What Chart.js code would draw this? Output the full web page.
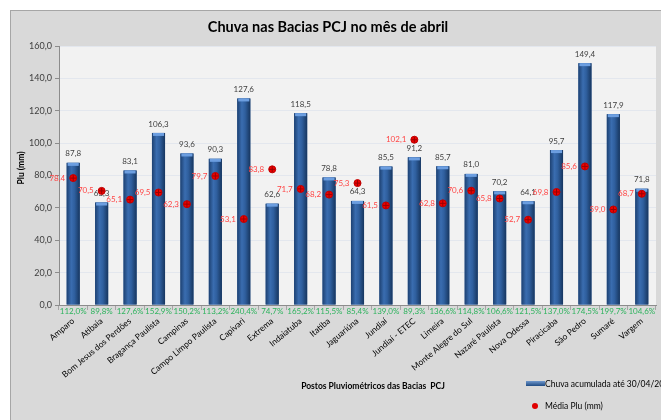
<!DOCTYPE html>
<html>
<head>
<meta charset="utf-8">
<script src="https://cdn.jsdelivr.net/npm/chart.js@4"></script>
<style>
  body { margin: 0; background: #fff; }
  #wrap { width: 661px; height: 420px; }
</style>
</head>
<body>
<div id="wrap"><canvas id="chuva"></canvas></div>
<script>
/* data */
const postos = ["Amparo", "Atibaia", "Bom Jesus dos Perdões", "Bragança Paulista", "Campinas",
  "Campo Limpo Paulista", "Capivari", "Extrema", "Indaiatuba", "Itatiba", "Jaguariúna", "Jundiaí",
  "Jundiaí - ETEC", "Limeira", "Monte Alegre do Sul", "Nazaré Paulista", "Nova Odessa",
  "Piracicaba", "São Pedro", "Sumaré", "Vargem"];
const chuvaAcumulada = [87.8, 63.3, 83.1, 106.3, 93.6, 90.3, 127.6, 62.6, 118.5, 78.8, 64.3, 85.5,
  91.2, 85.7, 81.0, 70.2, 64.1, 95.7, 149.4, 117.9, 71.8];
const mediaPlu = [78.4, 70.5, 65.1, 69.5, 62.3, 79.7, 53.1, 83.8, 71.7, 68.2, 75.3, 61.5,
  102.1, 62.8, 70.6, 65.8, 52.7, 69.8, 85.6, 59.0, 68.7];
const percentual = ["112,0%", "89,8%", "127,6%", "152,9%", "150,2%", "113,2%", "240,4%", "74,7%",
  "165,2%", "115,5%", "85,4%", "139,0%", "89,3%", "136,6%", "114,8%", "106,6%", "121,5%",
  "137,0%", "174,5%", "199,7%", "104,6%"];

const FONT = "Lato, 'Liberation Sans', sans-serif";
const fmt = v => v.toFixed(1).replace(".", ",");

/* background box, plot area, titles, legend */
const frame = {
  id: "frame",
  beforeDraw(chart) {
    const { ctx, chartArea: a } = chart;
    ctx.save();
    ctx.fillStyle = "#d9d9d9";
    ctx.fillRect(10, 10, 661, 420);
    ctx.strokeStyle = "#a6a6a6";
    ctx.lineWidth = 1;
    ctx.strokeRect(10.5, 10.5, 661, 420);
    ctx.fillStyle = "#f2f2f2";
    ctx.fillRect(a.left, a.top, a.right - a.left, a.bottom - a.top);
    ctx.restore();
  },
  afterDraw(chart) {
    const { ctx } = chart;
    const x = chart.scales.x;
    ctx.save();
    ctx.fillStyle = "#000";
    ctx.textAlign = "center";
    ctx.textBaseline = "middle";
    ctx.font = "bold 14.5px " + FONT;
    ctx.fillText("Chuva nas Bacias PCJ no mês de abril", 328, 27);

    ctx.font = "bold 8.5px " + FONT;
    ctx.fillText("Postos Pluviométricos das Bacias  PCJ", 373, 386);
    ctx.translate(21, 168);
    ctx.rotate(-Math.PI / 2);
    ctx.fillText("Plu (mm)", 0, 0);
    ctx.setTransform(1, 0, 0, 1, 0, 0);

    // percent labels under the axis
    ctx.font = "8px " + FONT;
    ctx.fillStyle = "#2db35d";
    percentual.forEach((p, i) => ctx.fillText(p, x.getPixelForValue(i), 311));

    // legend
    const g = ctx.createLinearGradient(0, 380, 0, 386);
    g.addColorStop(0, "#7fa7dc");
    g.addColorStop(1, "#1f4a82");
    ctx.fillStyle = g;
    ctx.fillRect(526, 381, 19, 5);
    ctx.fillStyle = "#000";
    ctx.textAlign = "left";
    ctx.font = "8.5px " + FONT;
    ctx.fillText("Chuva acumulada até 30/04/2014", 545, 384);
    ctx.fillText("Média Plu (mm)", 545, 406);
    ctx.fillStyle = "#e00000";
    ctx.beginPath();
    ctx.arc(535, 406, 3, 0, Math.PI * 2);
    ctx.fill();
    ctx.restore();
  }
};

/* shading of the bars and value labels */
const marks = {
  id: "marks",
  afterDatasetDraw(chart, args) {
    const { ctx } = chart;
    const meta = args.meta;
    ctx.save();
    if (meta.type === "bar") {
      meta.data.forEach((b, i) => {
        const l = b.x - b.width / 2;
        const g = ctx.createLinearGradient(l, 0, l + b.width, 0);
        g.addColorStop(0, "#1d4172");
        g.addColorStop(0.35, "#3a6db0");
        g.addColorStop(0.6, "#2f5f9e");
        g.addColorStop(1, "#17365f");
        ctx.fillStyle = g;
        ctx.fillRect(l, b.y, b.width, b.base - b.y);
        ctx.fillStyle = "#6c9ee0";
        ctx.fillRect(l + 1, b.y, b.width - 2, 3);
        ctx.fillStyle = "#404040";
        ctx.font = "8px " + FONT;
        ctx.textAlign = "center";
        ctx.textBaseline = "bottom";
        ctx.fillText(fmt(chuvaAcumulada[i]), b.x, b.y - 5);
      });
    } else {
      meta.data.forEach((p, i) => {
        ctx.strokeStyle = "#9a0000";
        ctx.lineWidth = 1;
        ctx.beginPath();
        ctx.moveTo(p.x - 3, p.y); ctx.lineTo(p.x + 3, p.y);
        ctx.moveTo(p.x, p.y - 3); ctx.lineTo(p.x, p.y + 3);
        ctx.stroke();
        ctx.fillStyle = "#ff4444";
        ctx.font = "8px " + FONT;
        ctx.textAlign = "right";
        ctx.textBaseline = "middle";
        ctx.fillText(fmt(mediaPlu[i]), p.x - 8, p.y);
      });
    }
    ctx.restore();
  }
};

new Chart(document.getElementById("chuva"), {
  type: "bar",
  data: {
    labels: postos,
    datasets: [
      {
        type: "line",
        label: "Média Plu (mm)",
        data: mediaPlu,
        showLine: false,
        pointStyle: "circle",
        pointRadius: 3.5,
        pointBackgroundColor: "#ee0000",
        pointBorderColor: "#c00000",
        pointBorderWidth: 1,
        order: 0
      },
      {
        label: "Chuva acumulada até 30/04/2014",
        data: chuvaAcumulada,
        backgroundColor: "#2f5f9e",
        barPercentage: 0.92,
        categoryPercentage: 0.5,
        order: 1
      }
    ]
  },
  options: {
    responsive: true,
    maintainAspectRatio: false,
    animation: false,
    layout: { padding: { top: 46, left: 10, right: 4, bottom: 0 } },
    plugins: {
      legend: { display: false },
      title: { display: false },
      tooltip: { enabled: false }
    },
    scales: {
      x: {
        afterFit: s => { s.height = 115; },
        grid: { drawOnChartArea: false, tickLength: 5, tickColor: "#a6a6a6" },
        border: { color: "#8c8c8c" },
        ticks: {
          color: "#000",
          font: { family: FONT, size: 8.5 },
          minRotation: 40,
          maxRotation: 40,
          autoSkip: false,
          padding: 6
        }
      },
      y: {
        min: 0,
        max: 160,
        afterFit: s => { s.width = 49; },
        grid: { color: "#e3e7ee", tickLength: 4, tickColor: "#8c8c8c" },
        border: { color: "#8c8c8c" },
        ticks: {
          stepSize: 20,
          color: "#404040",
          font: { family: FONT, size: 9 },
          padding: 3,
          callback: v => fmt(v)
        }
      }
    }
  },
  plugins: [frame, marks]
});
</script>
</body>
</html>
